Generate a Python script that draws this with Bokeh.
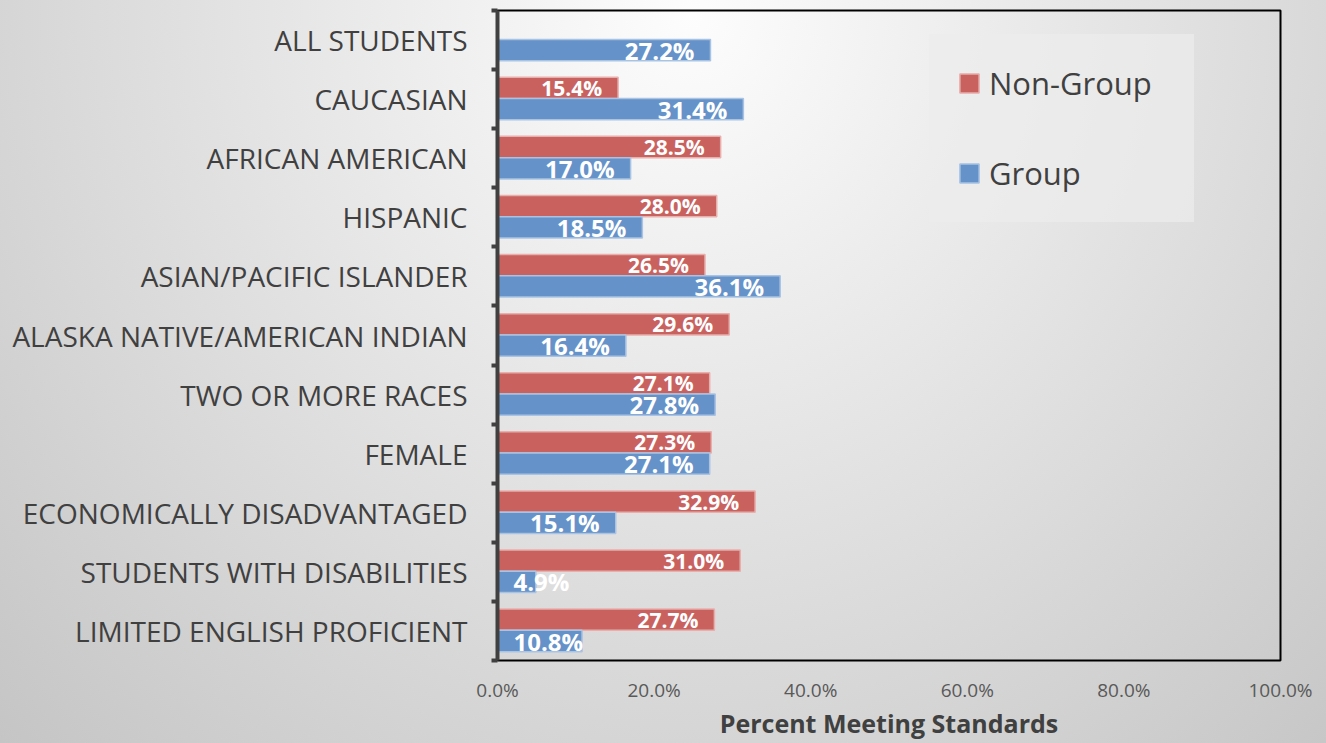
import numpy as np
from bokeh.plotting import figure
from bokeh.models import (Range1d, FixedTicker, CustomJSTickFormatter, PrintfTickFormatter,
                          ColumnDataSource, Legend, LegendItem)
from bokeh.core.properties import value
from bokeh.embed import file_html
from bokeh.resources import INLINE

categories = ["ALL STUDENTS", "CAUCASIAN", "AFRICAN AMERICAN", "HISPANIC",
              "ASIAN/PACIFIC ISLANDER", "ALASKA NATIVE/AMERICAN INDIAN",
              "TWO OR MORE RACES", "FEMALE", "ECONOMICALLY DISADVANTAGED",
              "STUDENTS WITH DISABILITIES", "LIMITED ENGLISH PROFICIENT"]
non_group = [None, 15.4, 28.5, 28.0, 26.5, 29.6, 27.1, 27.3, 32.9, 31.0, 27.7]
group = [27.2, 31.4, 17.0, 18.5, 36.1, 16.4, 27.8, 27.1, 15.1, 4.9, 10.8]
x_ticks = [0, 20, 40, 60, 80, 100]

FONT = "Open Sans"
RED = "#C9625F"
BLUE = "#6592C8"


def label_cols(vals):
    xs, aligns, offs = [], [], []
    for v in vals:
        if v < 12:
            xs.append(0.0); aligns.append("left"); offs.append(16)
        else:
            xs.append(v); aligns.append("right"); offs.append(-16)
    return xs, aligns, offs


idx = np.arange(len(categories))
ng_rows = [i for i, v in enumerate(non_group) if v is not None]
ng_vals = [non_group[i] for i in ng_rows]
ng_x, ng_al, ng_off = label_cols(ng_vals)
src_ng = ColumnDataSource(dict(
    y=[i + 0.31 for i in ng_rows], v=ng_vals,
    lab=[f"{v:.1f}%" for v in ng_vals], lx=ng_x, al=ng_al, off=ng_off))
g_x, g_al, g_off = label_cols(group)
src_g = ColumnDataSource(dict(
    y=[i + 0.67 for i in idx], v=group,
    lab=[f"{v:.1f}%" for v in group], lx=g_x, al=g_al, off=g_off))

p = figure(width=1326, height=743, output_backend="svg", toolbar_location=None,
           x_range=Range1d(0, 100), y_range=Range1d(len(categories), 0),
           min_border_left=497, min_border_top=10, min_border_right=46,
           min_border_bottom=83)
p.styles = {"background": "radial-gradient(ellipse 75% 140% at 52% 2%, #fdfdfd 0%, #c4c4c4 100%)"}
p.border_fill_alpha = 0
p.background_fill_alpha = 0
p.outline_line_color = "black"
p.outline_line_width = 2
p.xgrid.grid_line_color = None
p.ygrid.grid_line_color = None

r_ng = p.hbar(y="y", left=0, right="v", height=0.36, source=src_ng,
              fill_color=RED, line_color="#E8AFAD", line_width=1.5)
r_g = p.hbar(y="y", left=0, right="v", height=0.36, source=src_g,
             fill_color=BLUE, line_color="#A9C3E4", line_width=1.5)

p.text(x="lx", y="y", text="lab", source=src_ng, text_align="al", x_offset="off",
       text_baseline="middle", text_color="white", text_font=value(FONT),
       text_font_style="bold", text_font_size="21px")
p.text(x="lx", y="y", text="lab", source=src_g, text_align="al", x_offset="off",
       text_baseline="middle", text_color="white", text_font=value(FONT),
       text_font_style="bold", text_font_size="24px")

# y axis
ya = p.yaxis[0]
ya.ticker = FixedTicker(ticks=[i + 0.5 for i in idx], minor_ticks=list(range(len(categories) + 1)))
ya.formatter = CustomJSTickFormatter(args=dict(labels=categories),
                                     code="return labels[Math.floor(tick)] || '';")
ya.major_tick_line_color = None
ya.major_tick_out = 0
ya.major_tick_in = 0
ya.minor_tick_out = 6
ya.minor_tick_in = 0
ya.minor_tick_line_color = "#404040"
ya.minor_tick_line_width = 4
ya.axis_line_color = "#404040"
ya.axis_line_width = 4
ya.major_label_standoff = 24
ya.major_label_text_font = FONT
ya.major_label_text_font_size = "28px"
ya.major_label_text_color = "#404040"

# x axis
xa = p.xaxis[0]
xa.ticker = FixedTicker(ticks=x_ticks, minor_ticks=[])
xa.formatter = PrintfTickFormatter(format="%.1f%%")
xa.major_tick_line_color = None
xa.minor_tick_line_color = None
xa.axis_line_color = None
xa.major_label_standoff = 10
xa.major_label_text_font = FONT
xa.major_label_text_font_size = "19px"
xa.major_label_text_color = "#595959"
xa.axis_label = "Percent Meeting Standards"
xa.axis_label_text_font = FONT
xa.axis_label_text_font_style = "bold"
xa.axis_label_text_font_size = "25px"
xa.axis_label_text_color = "#404040"
xa.axis_label_standoff = 0

legend = Legend(items=[LegendItem(label="Non-Group", renderers=[r_ng]),
                       LegendItem(label="Group", renderers=[r_g])],
                location=(432, 438), orientation="vertical",
                padding=28, spacing=48, margin=0,
                glyph_width=24, glyph_height=24, label_standoff=8, label_width=177,
                label_height=42,
                label_text_font=FONT, label_text_font_size="31px", label_text_color="#404040",
                background_fill_color="#ececec", background_fill_alpha=0.7,
                border_line_color="#ececec", border_line_alpha=0.0)
p.add_layout(legend)

open("out.html", "w").write(file_html(p, INLINE))
